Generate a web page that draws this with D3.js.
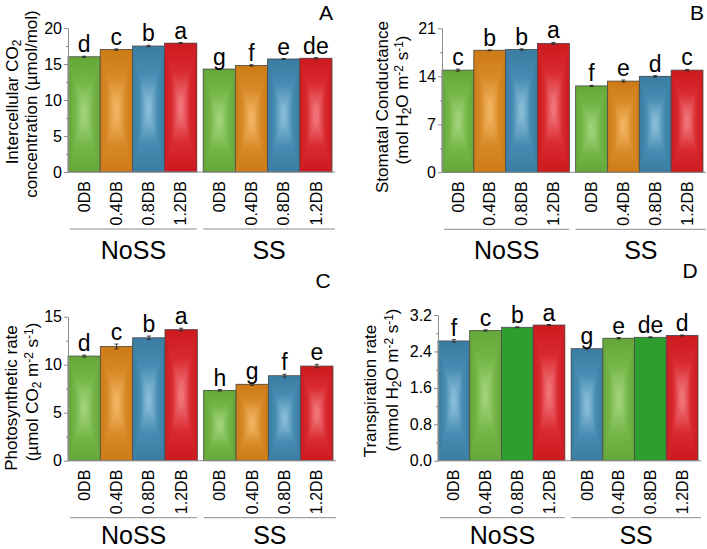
<!DOCTYPE html>
<html><head><meta charset="utf-8">
<script src="https://cdn.jsdelivr.net/npm/d3@7"></script>
<style>
body{margin:0;background:#fff}
svg{display:block}
text{font-family: "Liberation Sans", Arial, sans-serif; fill:#000}
</style>
</head><body>
<svg id="c" width="707" height="549"></svg>
<script>
// ---------------- DATA ----------------
const groups = ["NoSS", "SS"];
const categories = ["0DB", "0.4DB", "0.8DB", "1.2DB"];

// A: Intercellular CO2 concentration
const ciNoSS = [16.0, 17.0, 17.5, 17.9];
const ciSS = [14.3, 14.8, 15.7, 15.8];
const ciErrNoSS = [0.08, 0.1, 0.1, 0.08];
const ciErrSS = [0.06, 0.1, 0.06, 0.08];
const ciLetNoSS = ["d", "c", "b", "a"];
const ciLetSS = ["g", "f", "e", "de"];
const ciTicks = [0, 5, 10, 15, 20];

// B: Stomatal conductance
const gsNoSS = [14.9, 17.8, 17.9, 18.8];
const gsSS = [12.6, 13.3, 14.0, 14.9];
const gsErrNoSS = [0.15, 0.05, 0.1, 0.15];
const gsErrSS = [0.08, 0.15, 0.1, 0.1];
const gsLetNoSS = ["c", "b", "b", "a"];
const gsLetSS = ["f", "e", "d", "c"];
const gsTicks = [0, 7, 14, 21];

// C: Photosynthetic rate
const pnNoSS = [10.9, 11.9, 12.8, 13.65];
const pnSS = [7.33, 7.96, 8.85, 9.86];
const pnErrNoSS = [0.1, 0.25, 0.18, 0.15];
const pnErrSS = [0.08, 0.12, 0.15, 0.18];
const pnLetNoSS = ["d", "c", "b", "a"];
const pnLetSS = ["h", "g", "f", "e"];
const pnTicks = [0, 5, 10, 15];

// D: Transpiration rate
const trNoSS = [2.63, 2.86, 2.93, 2.98];
const trSS = [2.46, 2.69, 2.71, 2.75];
const trErrNoSS = [0.03, 0.015, 0.01, 0.01];
const trErrSS = [0.01, 0.015, 0.01, 0.01];
const trLetNoSS = ["f", "c", "b", "a"];
const trLetSS = ["g", "e", "de", "d"];
const trTicks = [0.0, 0.8, 1.6, 2.4, 3.2];

// ---------------- STYLE ----------------
const palette = {
  green:  {edge:"#64a638", base:"#76b648", light:"#a8d884"},
  orange: {edge:"#cc7a14", base:"#d88a28", light:"#f8bc6c"},
  blue:   {edge:"#3a7ca2", base:"#478cb2", light:"#94c6e0"},
  red:    {edge:"#cc1a1e", base:"#d92a30", light:"#f58488"}
};
const flatGreen = "#2e9e30";
const axisColor = "#8c8c8c";
const FONT = '"Liberation Sans", Arial, sans-serif';

const svg = d3.select("#c");
const defs = svg.append("defs");
const dirs = {t:[0,0,0,1], b:[0,1,0,0], l:[0,0,1,0], r:[1,0,0,0]};
Object.entries(palette).forEach(([k, c]) => {
  Object.entries(dirs).forEach(([d, [x1,y1,x2,y2]]) => {
    const g = defs.append("linearGradient").attr("id", `g-${k}-${d}`)
      .attr("x1", x1).attr("y1", y1).attr("x2", x2).attr("y2", y2);
    g.append("stop").attr("offset", 0).attr("stop-color", c.edge);
    g.append("stop").attr("offset", 0.45).attr("stop-color", c.base);
    g.append("stop").attr("offset", 1).attr("stop-color", c.light);
  });
});

// rich text helper: "_{x}" subscript, "^{x}" superscript
function richText(sel, str) {
  const re = /([_^])\{([^}]*)\}/g;
  let last = 0, m;
  while ((m = re.exec(str)) !== null) {
    if (m.index > last) sel.append("tspan").text(str.slice(last, m.index));
    sel.append("tspan").attr("baseline-shift", m[1] === "_" ? "-25%" : "40%")
      .attr("font-size", "70%").text(m[2]);
    last = re.lastIndex;
  }
  if (last < str.length) sel.append("tspan").text(str.slice(last));
}

const panels = [
  { letter:"A", lx:326, ly:20, x0:68, x1:332, yTop:28, yBot:172, gl:87, domain:[0,20], ticks:ciTicks, fmt:d3.format("d"),
    values:[ciNoSS, ciSS], errors:[ciErrNoSS, ciErrSS], letters:[ciLetNoSS, ciLetSS],
    colors:["green","orange","blue","red"],
    titles:[{t:"Intercellular CO_{2}", x:18, cy:102}, {t:"concentration (µmol/mol)", x:37, cy:104}] },
  { letter:"B", lx:697, ly:20, x0:442, x1:703, yTop:28.3, yBot:172.3, gl:87, domain:[0,21], ticks:gsTicks, fmt:d3.format("d"),
    values:[gsNoSS, gsSS], errors:[gsErrNoSS, gsErrSS], letters:[gsLetNoSS, gsLetSS],
    colors:["green","orange","blue","red"],
    titles:[{t:"Stomatal Conductance", x:388, cy:107}, {t:"(mol H_{2}O m^{-2} s^{-1})", x:408, cy:100}] },
  { letter:"C", lx:323, ly:288, x0:68, x1:333, yTop:316.7, yBot:460.7, gl:83, domain:[0,15], ticks:pnTicks, fmt:d3.format("d"),
    values:[pnNoSS, pnSS], errors:[pnErrNoSS, pnErrSS], letters:[pnLetNoSS, pnLetSS],
    colors:["green","orange","blue","red"],
    titles:[{t:"Photosynthetic rate", x:16.5, cy:398}, {t:"(µmol CO_{2} m^{-2} s^{-1})", x:38, cy:392}] },
  { letter:"D", lx:690, ly:278, x0:438, x1:698, yTop:315, yBot:460.7, gl:83, domain:[0,3.2], ticks:trTicks, fmt:d3.format(".1f"),
    values:[trNoSS, trSS], errors:[trErrNoSS, trErrSS], letters:[trLetNoSS, trLetSS],
    colors:["blue","green","flat","red"],
    titles:[{t:"Transpiration rate", x:376, cy:391}, {t:"(mmol H_{2}O m^{-2} s^{-1})", x:398, cy:380}] }
];

function drawPanel(p) {
  const g = svg.append("g");
  const y = d3.scaleLinear().domain(p.domain).range([p.yBot, p.yTop]);
  const outer = d3.scaleBand().domain(groups).range([p.x0, p.x1]).paddingInner(0.047);
  const inner = d3.scaleBand().domain(categories).range([0, outer.bandwidth()]);

  groups.forEach((grp, gi) => {
    categories.forEach((cat, ci) => {
      const v = p.values[gi][ci], e = p.errors[gi][ci];
      const x = outer(grp) + inner(cat), w = inner.bandwidth();
      const yt = y(v), yb = y(0), h = yb - yt;
      const cx = x + w / 2, cy = yt + h / 2;
      const col = p.colors[ci];
      const bg = g.append("g");
      if (col === "flat") {
        bg.append("rect").attr("x", x).attr("y", yt).attr("width", w).attr("height", h).attr("fill", flatGreen);
      } else {
        bg.append("rect").attr("x", x).attr("y", yt).attr("width", w).attr("height", h).attr("fill", palette[col].base);
        const tris = {
          t:[[x,yt],[x+w,yt],[cx,cy]],
          b:[[x,yb],[x+w,yb],[cx,cy]],
          l:[[x,yt],[x,yb],[cx,cy]],
          r:[[x+w,yt],[x+w,yb],[cx,cy]]
        };
        Object.entries(tris).forEach(([d, pts]) => {
          bg.append("polygon").attr("points", pts.map(q => q.join(",")).join(" "))
            .attr("fill", `url(#g-${col}-${d})`);
        });
      }
      bg.append("rect").attr("x", x).attr("y", yt).attr("width", w).attr("height", h)
        .attr("fill", "none").attr("stroke", "#4d4d4d").attr("stroke-width", 0.8);
      // error bar
      const eb = g.append("g").attr("stroke", "#2a2a2a").attr("stroke-width", 0.9);
      eb.append("line").attr("x1", cx).attr("x2", cx).attr("y1", y(v - e)).attr("y2", y(v + e));
      eb.append("line").attr("x1", cx - 2).attr("x2", cx + 2).attr("y1", y(v + e)).attr("y2", y(v + e));
      eb.append("line").attr("x1", cx - 2).attr("x2", cx + 2).attr("y1", y(v - e)).attr("y2", y(v - e));
      // letter
      g.append("text").attr("x", cx).attr("y", y(v + e) - 4).attr("text-anchor", "middle")
        .attr("font-size", 23).text(p.letters[gi][ci]);
      // category label
      g.append("text").attr("transform", `translate(${cx},${p.yBot + 9}) rotate(-90)`)
        .attr("text-anchor", "end").attr("dy", "0.35em").attr("font-size", 16).text(cat);
    });
    // group line + label
    const gx0 = outer(grp) + (gi === 0 ? 2 : 0), gx1 = outer(grp) + outer.bandwidth() + (gi === 0 ? 0 : 3);
    g.append("line").attr("x1", gx0).attr("x2", gx1).attr("y1", p.yBot + 57).attr("y2", p.yBot + 57)
      .attr("stroke", axisColor).attr("stroke-width", 1);
    g.append("text").attr("x", (gx0 + gx1) / 2).attr("y", p.yBot + p.gl).attr("text-anchor", "middle")
      .attr("font-size", 25).text(grp);
  });

  // y axis
  const minor = d3.pairs(p.ticks).map(([a, b]) => (a + b) / 2);
  const ax = g.append("g").attr("transform", `translate(${p.x0},0)`)
    .call(d3.axisLeft(y).tickValues(p.ticks).tickFormat(p.fmt).tickSize(4).tickPadding(2).tickSizeOuter(0));
  ax.select(".domain").attr("stroke", axisColor);
  ax.selectAll(".tick line").attr("stroke", axisColor);
  ax.selectAll(".tick text").attr("font-size", 16).attr("font-family", FONT).attr("fill", "#000");
  const axm = g.append("g").attr("transform", `translate(${p.x0},0)`)
    .call(d3.axisLeft(y).tickValues(minor).tickFormat("").tickSize(2).tickSizeOuter(0));
  axm.select(".domain").remove();
  axm.selectAll(".tick line").attr("stroke", axisColor);

  // x axis line
  g.append("line").attr("x1", p.x0).attr("x2", p.x1 + 3).attr("y1", p.yBot).attr("y2", p.yBot)
    .attr("stroke", axisColor).attr("stroke-width", 1);

  // titles
  p.titles.forEach(t => {
    const tx = g.append("text").attr("transform", `translate(${t.x},${t.cy}) rotate(-90)`)
      .attr("text-anchor", "middle").attr("font-size", 17);
    richText(tx, t.t);
  });

  // panel letter
  g.append("text").attr("x", p.lx).attr("y", p.ly).attr("text-anchor", "middle")
    .attr("font-size", 21).text(p.letter);
}

panels.forEach(drawPanel);
</script>
</body></html>
